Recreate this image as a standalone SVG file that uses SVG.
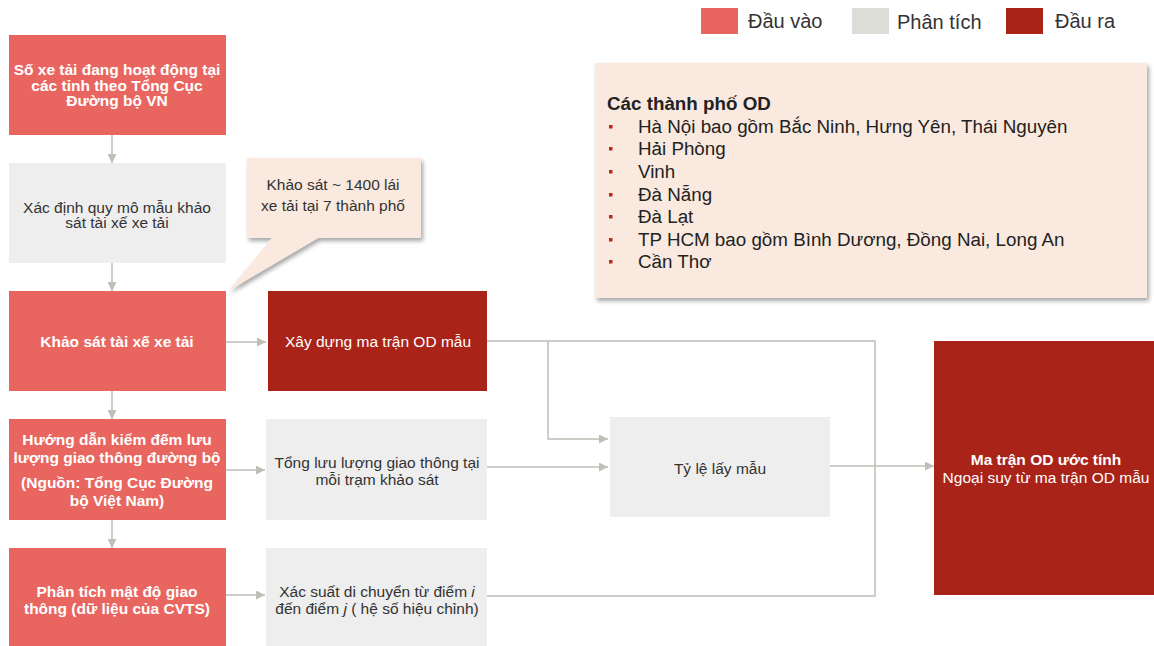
<svg xmlns="http://www.w3.org/2000/svg" width="1154" height="646" viewBox="0 0 1154 646">
<style>
.in{fill:#E8665F}
.out{fill:#AA2318}
.an{fill:#EEEEEE}
.t{font-family:"Liberation Sans",Arial,sans-serif;font-size:15.5px;text-anchor:middle}
.w{fill:#FFFFFF}
.b{font-weight:bold}
.d{fill:#333333}
.c{fill:none;stroke:#BEBFB7;stroke-width:1.5}
.lg{font-family:"Liberation Sans",Arial,sans-serif;font-size:20px;fill:#333333}
.card{font-family:"Liberation Sans",Arial,sans-serif;font-size:18.8px;fill:#222222}
</style>
<defs>
<marker id="ah" viewBox="0 0 10 10" refX="10" refY="5" markerWidth="9" markerHeight="9" markerUnits="userSpaceOnUse" orient="auto">
<path d="M0,0 L10,5 L0,10 z" fill="#BEBFB7"/>
</marker>
<filter id="sh" x="-10%" y="-10%" width="125%" height="130%">
<feDropShadow dx="2" dy="3" stdDeviation="2" flood-color="#000000" flood-opacity="0.35"/>
</filter>
</defs>
<rect width="1154" height="646" fill="#FFFFFF"/>

<g id="legend">
<rect x="701" y="8" width="37" height="26" class="in"/>
<text x="748" y="28" class="lg">Đầu vào</text>
<rect x="852" y="8" width="37" height="26" fill="#DDDDD8"/>
<text x="897" y="29" class="lg">Phân tích</text>
<rect x="1006" y="8" width="37" height="26" class="out"/>
<text x="1055" y="28" class="lg">Đầu ra</text>
</g>

<g id="connectors">
<path class="c" d="M112 135 V163" marker-end="url(#ah)"/>
<path class="c" d="M112 263 V291" marker-end="url(#ah)"/>
<path class="c" d="M112 391 V419" marker-end="url(#ah)"/>
<path class="c" d="M112 520 V548" marker-end="url(#ah)"/>
<path class="c" d="M226 342 H266" marker-end="url(#ah)"/>
<path class="c" d="M226 470 H265" marker-end="url(#ah)"/>
<path class="c" d="M226 595 H265" marker-end="url(#ah)"/>
<path class="c" d="M487 341 H875 V596 H487"/>
<path class="c" d="M548 341 V439 H608" marker-end="url(#ah)"/>
<path class="c" d="M487 467 H608" marker-end="url(#ah)"/>
<path class="c" d="M830 466 H934" marker-end="url(#ah)"/>
</g>

<g id="n1">
<rect x="9" y="35" width="217" height="100" class="in"/>
<text class="t w b"><tspan x="117" y="75">Số xe tải đang hoạt động tại</tspan><tspan x="117" y="91">các tỉnh theo Tổng Cục</tspan><tspan x="117" y="106">Đường bộ VN</tspan></text>
</g>

<g id="n2">
<rect x="9" y="163" width="217" height="100" class="an"/>
<text class="t d"><tspan x="117" y="213">Xác định quy mô mẫu khảo</tspan><tspan x="117" y="228">sát tài xế xe tải</tspan></text>
</g>

<g id="callout">
<path d="M247 158 H421 V238 H318 L228 291 L272 238 H247 Z" fill="#FAE9DE" filter="url(#sh)"/>
<text class="t d"><tspan x="333" y="190">Khảo sát ~ 1400 lái</tspan><tspan x="333" y="211">xe tải tại 7 thành phố</tspan></text>
</g>

<g id="n3">
<rect x="9" y="291" width="217" height="100" class="in"/>
<text x="117" y="347" class="t w b">Khảo sát tài xế xe tải</text>
</g>

<g id="n4">
<rect x="268" y="291" width="219" height="100" class="out"/>
<text x="378" y="347" class="t w">Xây dựng ma trận OD mẫu</text>
</g>

<g id="n5">
<rect x="9" y="419" width="217" height="101" class="in"/>
<text class="t w b"><tspan x="117" y="445">Hướng dẫn kiểm đếm lưu</tspan><tspan x="117" y="463">lượng giao thông đường bộ</tspan><tspan x="117" y="488">(Nguồn: Tổng Cục Đường</tspan><tspan x="117" y="506">bộ Việt Nam)</tspan></text>
</g>

<g id="n6">
<rect x="266" y="419" width="221" height="101" class="an"/>
<text class="t d"><tspan x="377" y="468">Tổng lưu lượng giao thông tại</tspan><tspan x="377" y="485">mỗi trạm khảo sát</tspan></text>
</g>

<g id="n7">
<rect x="9" y="548" width="217" height="98" class="in"/>
<text class="t w b"><tspan x="117" y="597">Phân tích mật độ giao</tspan><tspan x="117" y="614">thông (dữ liệu của CVTS)</tspan></text>
</g>

<g id="n8">
<rect x="266" y="548" width="221" height="98" class="an"/>
<text class="t d"><tspan x="377" y="597">Xác suất di chuyển từ điểm <tspan font-style="italic">i</tspan></tspan><tspan x="377" y="614">đến điểm <tspan font-style="italic">j</tspan> ( hệ số hiệu chỉnh)</tspan></text>
</g>

<g id="n9">
<rect x="610" y="417" width="220" height="100" class="an"/>
<text x="720" y="474" class="t d">Tỷ lệ lấy mẫu</text>
</g>

<g id="n10">
<rect x="934" y="341" width="222" height="254" class="out"/>
<text class="t w"><tspan x="1046" y="465" font-weight="bold">Ma trận OD ước tính</tspan><tspan x="1046" y="483">Ngoại suy từ ma trận OD mẫu</tspan></text>
</g>

<g id="card">
<rect x="595" y="63" width="552" height="235" fill="#FAE9DE" filter="url(#sh)"/>
<text x="607" y="110" class="card" font-weight="bold">Các thành phố OD</text>
<g fill="#C0251B">
<rect x="609" y="125" width="3.5" height="3.5"/>
<rect x="609" y="147" width="3.5" height="3.5"/>
<rect x="609" y="170" width="3.5" height="3.5"/>
<rect x="609" y="193" width="3.5" height="3.5"/>
<rect x="609" y="215" width="3.5" height="3.5"/>
<rect x="609" y="238" width="3.5" height="3.5"/>
<rect x="609" y="260" width="3.5" height="3.5"/>
</g>
<text class="card"><tspan x="638" y="133">Hà Nội bao gồm Bắc Ninh, Hưng Yên, Thái Nguyên</tspan><tspan x="638" y="155">Hải Phòng</tspan><tspan x="638" y="178">Vinh</tspan><tspan x="638" y="201">Đà Nẵng</tspan><tspan x="638" y="223">Đà Lạt</tspan><tspan x="638" y="246">TP HCM bao gồm Bình Dương, Đồng Nai, Long An</tspan><tspan x="638" y="268">Cần Thơ</tspan></text>
</g>
</svg>
